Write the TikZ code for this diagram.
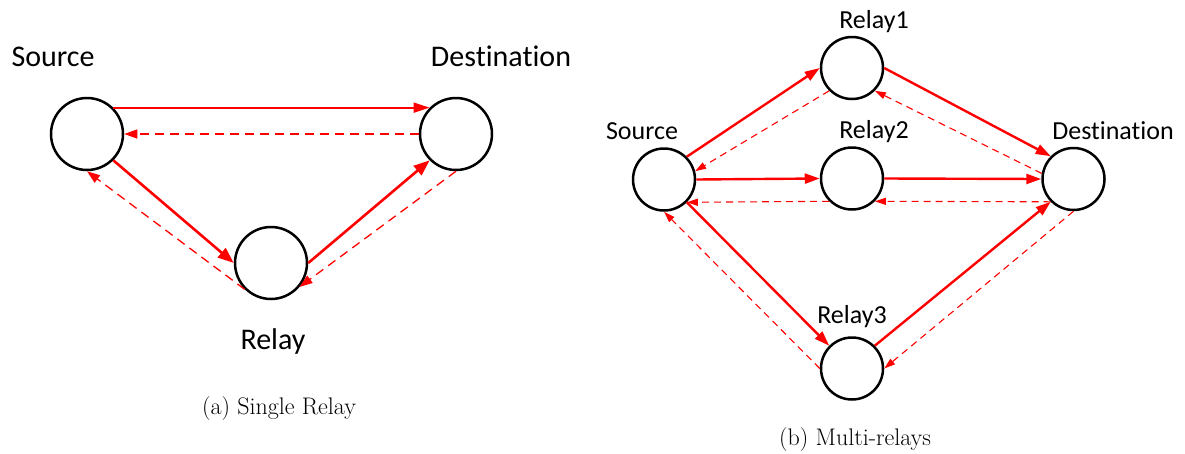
\documentclass[tikz,border=0pt]{standalone}
\usepackage{fontspec}
\newfontfamily\labelfont[Ligatures={NoCommon}]{Carlito}
\usetikzlibrary{arrows.meta}
\begin{document}
\begin{tikzpicture}[x=1pt,y=-1pt,
 nodeL/.style={circle,draw=black,line width=2.5pt,minimum size=72pt,inner sep=0pt},
 nodeR/.style={circle,draw=black,line width=2.5pt,minimum size=62pt,inner sep=0pt},
 labL/.style={font=\labelfont\fontsize{30}{36}\selectfont,anchor=base,inner sep=0pt},
 labR/.style={font=\labelfont\fontsize{26}{31}\selectfont,anchor=base,inner sep=0pt},
 captext/.style={font=\fontsize{24}{29}\selectfont,anchor=base,inner sep=0pt},
 fwd/.style={draw=red,line width=2.6pt,-{Triangle[length=16pt,width=12pt]}},
 fwdthin/.style={draw=red,line width=1.8pt,-{Triangle[length=16pt,width=10pt]}},
 back/.style={draw=red,line width=1.3pt,dash pattern=on 9pt off 6pt,-{Triangle[length=13pt,width=9pt]}},
 fwdR/.style={draw=red,line width=2.4pt,-{Triangle[length=15pt,width=10pt]}},
 backR/.style={draw=red,line width=1.1pt,dash pattern=on 7pt off 5pt,-{Triangle[length=11pt,width=7pt]}},
]
\useasboundingbox (0,0) rectangle (1185,453);
% (a) single relay
\node[nodeL] (S) at (87,134) {};
\node[nodeL] (D) at (456,134) {};
\node[nodeL] (R) at (271,263) {};
\node[labL] (tS) at (53,66) {Source};
\node[labL] (tD) at (501,66) {Destination};
\node[labL] (tR) at (273,349) {Relay};
\node[captext] (ca) at (279,414) {(a) Single Relay};
\draw[fwdthin] (S.45) -- (D.135);
\draw[back] (D.west) -- (S.east);
\draw[fwd] (S.-45) -- (R.west);
\draw[back] (R.-135) -- (S.south);
\draw[fwd] (R.east) -- (D.-135);
\draw[back] (D.south) -- (R.-40);
% (b) multi-relays
\node[nodeR] (S2) at (664,179.5) {};
\node[nodeR] (A) at (852,68) {};
\node[nodeR] (B) at (852,178.5) {};
\node[nodeR] (C) at (852,368.5) {};
\node[nodeR] (D2) at (1073.5,179) {};
\node[labR] (tS2) at (642,139) {Source};
\node[labR] (tA) at (874,28) {Relay1};
\node[labR] (tB) at (874,138) {Relay2};
\node[labR] (tC) at (852,323) {Relay3};
\node[labR] (tD2) at (1113,139) {Destination};
\node[captext] (cb) at (855,445) {(b) Multi-relays};
\draw[fwdR] (S2.45) -- (A.west);
\draw[backR] (A.-135) -- (S2.15);
\draw[fwdR] (A.east) -- (D2.135);
\draw[backR] (D2.170) -- (A.-45);
\draw[fwdR] (S2.east) -- (B.west);
\draw[fwdR] (B.east) -- (D2.west);
\draw[backR] (D2.-135) -- (B.-45);
\draw[backR] (B.-135) -- (S2.-45);
\draw[fwdR] (S2.-45) -- (C.135);
\draw[backR] (C.west) -- (S2.south);
\draw[fwdR] (C.45) -- (D2.-135);
\draw[backR] (D2.south) -- (C.east);
\end{tikzpicture}
\end{document}
